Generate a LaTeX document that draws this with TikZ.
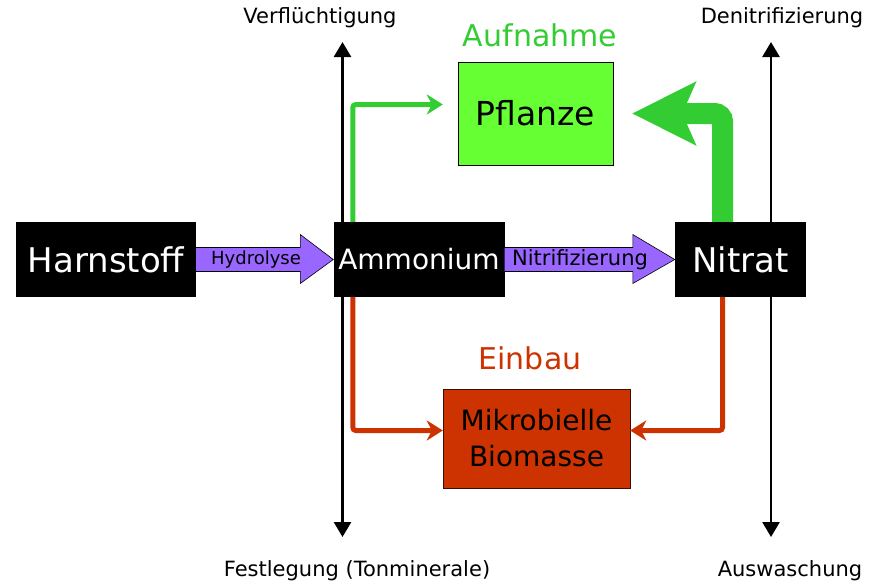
\documentclass[tikz,border=0pt]{standalone}
\usepackage{fontspec}
\setmainfont{DejaVu Sans}
\usetikzlibrary{arrows.meta}
\usetikzlibrary{calc}
\definecolor{lila}{HTML}{9966FF}
\definecolor{hellgruen}{HTML}{66FF33}
\definecolor{gruen}{HTML}{33CC33}
\definecolor{rost}{HTML}{CC3300}

\begin{document}
\begin{tikzpicture}[x=1pt,y=-1pt,
  stoff/.style={fill=black, text=white, minimum height=75, inner sep=0, font=\fontsize{34}{40}\selectfont},
  prozess/.style={draw=black, fill=lila, line width=0.6},
  achse/.style={line width=2.6, {Triangle[length=15pt,width=17pt]}-{Triangle[length=15pt,width=17pt]}},
  pfeil/.style={line width=5, rounded corners=3, -{Stealth[length=16pt,width=20pt,inset=5pt]}},
  rand/.style={font=\fontsize{21}{25}\selectfont}]

\useasboundingbox (0,0) rectangle (882,584);

% axes
\coordinate (lo) at (342.5,42);
\coordinate (lu) at (342.5,537);
\coordinate (ro) at (771,42);
\coordinate (ru) at (771,537);
\draw [achse] (lo)--(lu);
\draw [achse] (ro)--(ru);

\node [rand] (verf) at (320,18) {Verflüchtigung};
\node [rand] (deni) at (782,18) {Denitrifizierung};
\node [rand] (fest) at (357,571) {Festlegung (Tonminerale)};
\node [rand] (ausw) at (790,571) {Auswaschung};

% boxes
\node [stoff, minimum width=180] (harn) at (106,259.5) {Harnstoff};
\node [stoff, minimum width=171, font=\fontsize{28}{34}\selectfont] (amm) at (419,259.5) {Ammonium};
\node [stoff, minimum width=131] (nit) at (740.5,259.5) {Nitrat};

\node [draw=black, fill=hellgruen, minimum width=155, minimum height=103, font=\fontsize{33}{38}\selectfont] (pfl) at (535.5,113.5) {Pflanze};
\node [draw=black!70!rost, fill=rost, minimum width=187, minimum height=99, align=center, font=\fontsize{28}{36}\selectfont] (bio) at (536.5,438.5) {Mikrobielle\\Biomasse};

\node [text=gruen, font=\fontsize{30}{36}\selectfont] (auf) at (540,35) {Aufnahme};
\node [text=rost, font=\fontsize{30}{36}\selectfont] (ein) at (530,358) {Einbau};

% hydrolyse / nitrifizierung
\draw [prozess] ($(harn.east)+(0,-12)$) -- ($(amm.west)+(-33,-12)$) -- ($(amm.west)+(-33,-25)$) -- (amm.west)
  -- ($(amm.west)+(-33,24)$) -- ($(amm.west)+(-33,12)$) -- ($(harn.east)+(0,12)$);
\node [font=\fontsize{18}{22}\selectfont] (hyd) at (256,260) {Hydrolyse};

\draw [prozess] ($(amm.east)+(0,-12)$) -- ($(nit.west)+(-42,-12)$) -- ($(nit.west)+(-42,-25)$) -- (nit.west)
  -- ($(nit.west)+(-42,24)$) -- ($(nit.west)+(-42,12)$) -- ($(amm.east)+(0,12)$);
\node [font=\fontsize{21}{24}\selectfont] (nitri) at (580,260) {Nitrifizierung};

% uptake
\draw [pfeil, gruen] ($(amm.north west)+(19.5,0)$) |- ($(pfl.west)+(-15,-9)$);
\draw [gruen, line width=21, rounded corners=8, -{Stealth[length=63pt,width=62pt,inset=13pt]}]
  ($(nit.north)+(-18,0)$) |- ($(pfl.east)+(19,0)$);

% immobilisation
\draw [pfeil, rost] ($(amm.south west)+(19.5,0)$) |- ($(bio.west)+(0,-8)$);
\draw [pfeil, rost] ($(nit.south)+(-18,0)$) |- ($(bio.east)+(0,-8)$);

\end{tikzpicture}
\end{document}
